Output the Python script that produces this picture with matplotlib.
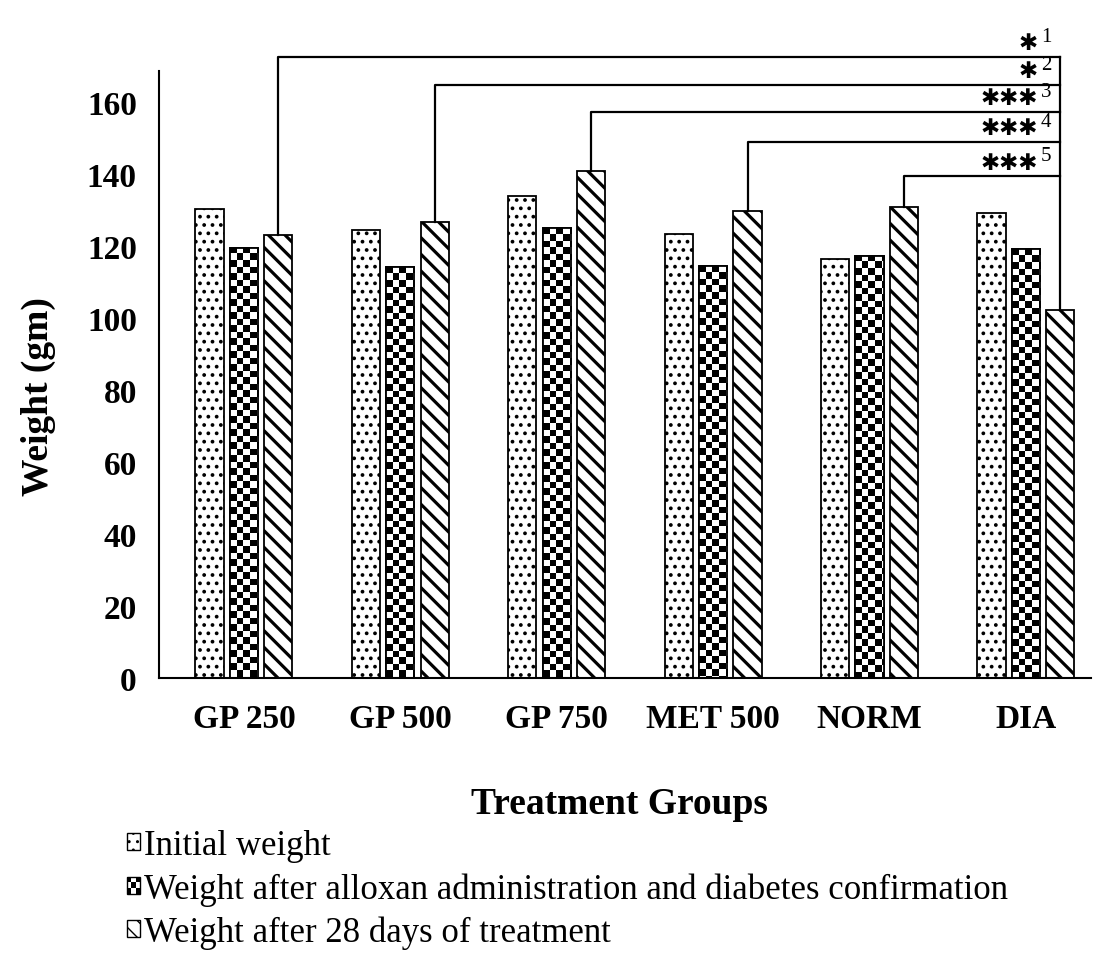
import numpy as np
import matplotlib
matplotlib.use('Agg')
import matplotlib.pyplot as plt
from matplotlib.patches import Patch, Rectangle
from matplotlib.legend_handler import HandlerBase

groups = ['GP 250', 'GP 500', 'GP 750', 'MET 500', 'NORM', 'DIA']
initial = [130.3, 124.3, 133.8, 123.2, 116.3, 129.2]
after_alloxan = [119.5, 114.0, 124.9, 114.3, 117.2, 119.0]
after_28_days = [122.9, 126.5, 140.7, 129.6, 130.8, 102.1]
series_names = ['Initial weight',
                'Weight after alloxan administration and diabetes confirmation',
                'Weight after 28 days of treatment']
yticks = [0, 20, 40, 60, 80, 100, 120, 140, 160]

# significance of each group vs DIA (after 28 days)
sig_marks = ['\u2731', '\u2731', '\u2731\u2731\u2731', '\u2731\u2731\u2731', '\u2731\u2731\u2731']
sig_refs = ['1', '2', '3', '4', '5']
sig_levels = [172.4, 164.6, 157.1, 148.8, 139.3]

plt.rcParams['font.family'] = ['Liberation Serif', 'DejaVu Serif']

W, H = 1096, 979
fig = plt.figure(figsize=(W / 100, H / 100), dpi=100)
ax = fig.add_axes([159 / W, 1 - 679 / H, (1091 - 159) / W, (679 - 72) / H])
ax.set_xlim(-0.543, 5.416)
ax.set_ylim(0, 168.5)

x = np.arange(len(groups))
bw = 0.18
off = 0.22

with plt.rc_context({'hatch.linewidth': 1.5}):
    b1 = ax.bar(x - off, initial, bw, color='white', edgecolor='black', linewidth=1.3, hatch='..', zorder=2)
b2 = ax.bar(x, after_alloxan, bw, color='white', edgecolor='black', linewidth=1.3, zorder=2)
with plt.rc_context({'hatch.linewidth': 2.3}):
    b3 = ax.bar(x + off, after_28_days, bw, color='white', edgecolor='black', linewidth=1.3,
                hatch='\\\\', zorder=2)

# checkerboard fill for the alloxan bars
cell = 6.5
for rect in b2:
    x0, y0 = rect.get_x(), rect.get_y()
    w_, h_ = rect.get_width(), rect.get_height()
    (px0, py0), (px1, py1) = ax.transData.transform([(x0, y0), (x0 + w_, y0 + h_)])
    nx = int(np.ceil((px1 - px0) / cell))
    ny = int(np.ceil((py1 - py0) / cell))
    dx = cell * w_ / (px1 - px0)
    dy = cell * h_ / (py1 - py0)
    grid = np.indices((ny, nx)).sum(axis=0) % 2
    im = ax.imshow(grid, cmap='gray', vmin=0, vmax=1, origin='upper',
                   extent=(x0, x0 + nx * dx, y0 + h_ - ny * dy, y0 + h_),
                   interpolation='nearest', aspect='auto', zorder=2.5)
    im.set_clip_path(rect)
ax.bar(x, after_alloxan, bw, fill=False, edgecolor='black', linewidth=1.3, zorder=3)
ax.set_xlim(-0.543, 5.416)
ax.set_ylim(0, 168.5)

# brackets
xt = [r.get_x() + r.get_width() / 2 for r in b3]
right_x = xt[-1]
for i, lvl in enumerate(sig_levels):
    ax.plot([xt[i], xt[i], right_x], [after_28_days[i], lvl, lvl], color='black', lw=1.6,
            clip_on=False, zorder=4)
ax.plot([right_x, right_x], [after_28_days[-1], max(sig_levels)], color='black', lw=1.6,
        clip_on=False, zorder=4)
for lvl, m, r in zip(sig_levels, sig_marks, sig_refs):
    ax.annotate(m, xy=(right_x, lvl), xytext=(-16, 5.5), textcoords='offset points',
                ha='right', va='baseline', fontsize=16.5, family='DejaVu Sans',
                annotation_clip=False)
    ax.annotate(r, xy=(right_x, lvl), xytext=(-14, 11.5), textcoords='offset points',
                ha='left', va='baseline', fontsize=15, annotation_clip=False)

ax.set_xticks(x, groups)
ax.set_yticks(yticks)
ax.tick_params(length=0, labelsize=24)
ax.tick_params(axis='y', pad=16)
ax.tick_params(axis='x', pad=18)
for lab in ax.get_xticklabels() + ax.get_yticklabels():
    lab.set_fontweight('bold')
ax.spines[['top', 'right']].set_visible(False)
ax.spines[['left', 'bottom']].set_linewidth(1.5)

fig.text(619 / W, 1 - 804 / H, 'Treatment Groups', ha='center', va='center',
         fontsize=27, fontweight='bold')
fig.text(38 / W, 1 - 397 / H, 'Weight (gm)', rotation=90, ha='center', va='center',
         fontsize=27, fontweight='bold')


class CheckerHandler(HandlerBase):
    def create_artists(self, legend, orig_handle, xdescent, ydescent, width, height, fontsize, trans):
        n = 3
        arts = []
        for i in range(n):
            for j in range(n):
                fc = 'black' if (i + j) % 2 == 0 else 'white'
                arts.append(Rectangle((-xdescent + i * width / n, -ydescent + j * height / n),
                                      width / n, height / n, facecolor=fc, edgecolor='none',
                                      transform=trans))
        arts.append(Rectangle((-xdescent, -ydescent), width, height, fill=False,
                              edgecolor='black', lw=1, transform=trans))
        return arts


with plt.rc_context({'hatch.linewidth': 1.0}):
    h1 = Patch(facecolor='white', edgecolor='black', hatch='..')
    h3 = Patch(facecolor='white', edgecolor='black', hatch='\\\\')
h2 = Patch(facecolor='black')
fig.legend([h1, h2, h3], series_names, loc='upper left', bbox_to_anchor=(127 / W, 1 - 830 / H),
           frameon=False, fontsize=25, handlelength=0.38, handleheight=0.38, handletextpad=0.12,
           labelspacing=0.29, borderpad=0, borderaxespad=0, handler_map={h2: CheckerHandler()})

fig.savefig('out.png', dpi=100)
